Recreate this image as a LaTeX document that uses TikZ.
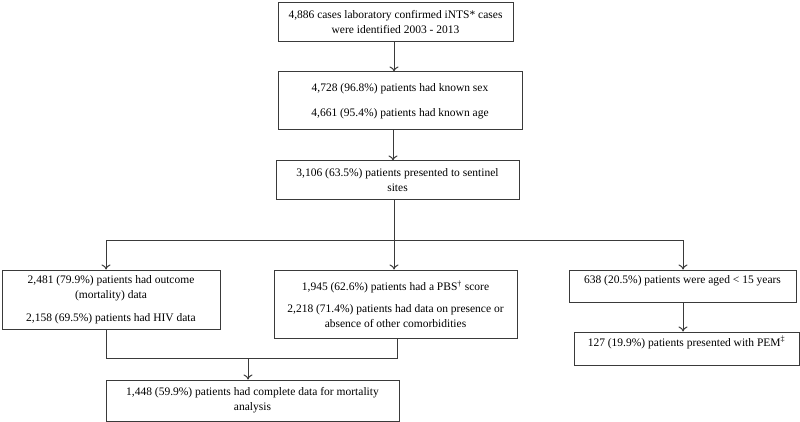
\documentclass[tikz,border=0pt]{standalone}
\usepackage{fontspec}
\setmainfont{Liberation Serif}
\usetikzlibrary{arrows.meta}
\definecolor{linec}{HTML}{3A3A3A}
\begin{document}
\begin{tikzpicture}[x=1pt,y=-1pt,
  box/.style={draw=linec, line width=1pt, inner sep=0pt, align=center,
    font=\fontsize{11.5}{15}\selectfont, text=black},
  arr/.style={draw=linec, line width=1pt, -{To[length=5pt,width=9pt]}},
  ln/.style={draw=linec, line width=1pt}]
\useasboundingbox (0,0) rectangle (800,422);

\node[box, minimum width=235pt, minimum height=39pt] (b1) at (395.5,22.5)
  {4,886 cases laboratory confirmed iNTS* cases\\were identified 2003 - 2013};
\node[box, minimum width=244pt, minimum height=58pt] (b2) at (400,101)
  {4,728 (96.8\%) patients had known sex\\[10pt]4,661 (95.4\%) patients had known age};
\node[box, minimum width=243pt, minimum height=39pt] (b3) at (397.5,180.5)
  {3,106 (63.5\%) patients presented to sentinel\\sites};
\node[box, minimum width=218pt, minimum height=59pt] (lft) at (111,299.5)
  {2,481 (79.9\%) patients had outcome\\(mortality) data\\[8pt]2,158 (69.5\%) patients had HIV data};
\node[box, minimum width=243pt, minimum height=68pt] (mid) at (395.5,304)
  {1,945 (62.6\%) patients had a PBS\textsuperscript{†} score\\[7pt]2,218 (71.4\%) patients had data on presence or\\absence of other comorbidities};
\node[box, minimum width=227pt, minimum height=32pt, text height=8.5pt, text depth=14pt] (rgt) at (682.5,286)
  {638 (20.5\%) patients were aged < 15 years};
\node[box, minimum width=225pt, minimum height=33pt, text height=8.5pt, text depth=13pt] (pem) at (686.5,348.5)
  {127 (19.9\%) patients presented with PEM\textsuperscript{‡}};
\node[box, minimum width=293pt, minimum height=41pt] (bot) at (252.5,400.5)
  {1,448 (59.9\%) patients had complete data for mortality\\analysis};

\coordinate (xa) at (394,0);
\coordinate (xb) at (393,0);
\coordinate (j) at (394,240);
\coordinate (jl) at (106,240);
\coordinate (jr) at (683,240);
\coordinate (kl) at (106,358);
\coordinate (kr) at (397,358);
\coordinate (km) at (248,358);

\draw[arr] (b1.south -| xa) -- (b2.north -| xa);
\draw[arr] (b2.south -| xb) -- (b3.north -| xb);
\draw[ln] (b3.south -| j) -- (j);
\draw[ln] (jl) -- (jr);
\draw[arr] (jl) -- (lft.north -| jl);
\draw[arr] (j) -- (mid.north -| j);
\draw[arr] (jr) -- (rgt.north -| jr);
\draw[arr] (rgt.south -| jr) -- (pem.north -| jr);
\draw[ln] (lft.south -| kl) -- (kl) -- (kr) -- (mid.south -| kr);
\draw[arr] (km) -- (bot.north -| km);
\end{tikzpicture}
\end{document}
